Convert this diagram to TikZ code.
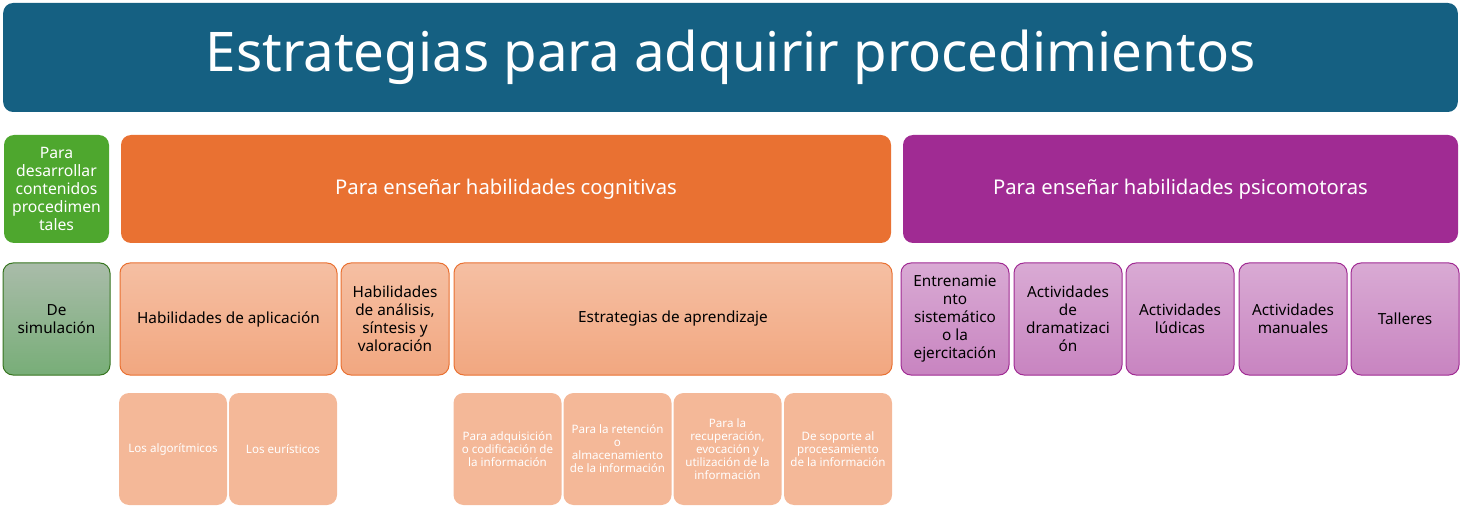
\documentclass[tikz,border=0pt]{standalone}
\usepackage{fontspec}
\setmainfont{Noto Sans}
\usepackage{xcolor}
\usetikzlibrary{positioning}

\definecolor{titleblue}{HTML}{156082}
\definecolor{headgreen}{HTML}{4EA72E}
\definecolor{headorange}{HTML}{E97132}
\definecolor{headpurple}{HTML}{A02B93}

\begin{document}
\begin{tikzpicture}[
  x=0.75pt, y=-0.75pt,
  head/.style={rectangle, rounded corners=7.5pt, text=white, align=center,
              minimum height=81pt, inner sep=2pt, font=\fontsize{15.2}{18}\selectfont},
  sub/.style={rectangle, rounded corners=7.5pt, line width=0.75pt, align=center,
              minimum height=84pt, inner sep=1pt, font=\fontsize{11.5}{13.5}\selectfont},
  subgreen/.style={sub, draw=headgreen!70!black, top color=green!12!gray!60,
              bottom color=green!25!gray!85!white},
  suborange/.style={sub, draw=headorange, top color=headorange!45!white,
              bottom color=headorange!62!white},
  subpurple/.style={sub, draw=headpurple, top color=headpurple!40!white,
              bottom color=headpurple!58!white},
  leaf/.style={rectangle, rounded corners=7.5pt, fill=headorange!50!white, text=white,
              align=center, minimum width=81pt, minimum height=84pt, inner sep=1pt,
              font=\fontsize{8.7}{9.75}\selectfont}
]
\useasboundingbox (0,0) rectangle (1461,506);

% title
\node[head, fill=titleblue, minimum width=1091pt, minimum height=81.75pt,
      font=\fontsize{41}{44}\selectfont] (title) at (730.5,57.5)
  {Estrategias para adquirir procedimientos};

% headers
\node[head, fill=headgreen, minimum width=78.75pt,
      font=\fontsize{11.8}{13.5}\selectfont] (hproc) at (56.5,189)
  {Para\\desarrollar\\contenidos\\procedimen\\tales};
\node[head, fill=headorange, minimum width=577.5pt] (hcog) at (506,189)
  {Para enseñar habilidades cognitivas};
\node[head, fill=headpurple, minimum width=416.25pt] (hpsi) at (1180.5,189)
  {Para enseñar habilidades psicomotoras};

% second row
\node[subgreen, minimum width=80.25pt] (sim) at (56.5,319) {De\\simulación};
\node[suborange, minimum width=162.75pt] (apl) at (228.5,319) {Habilidades de aplicación};
\node[suborange, minimum width=81pt] (ana) at (395,319)
  {Habilidades\\de análisis,\\síntesis y\\valoración};
\node[suborange, minimum width=328.5pt] (est) at (673,319) {Estrategias de aprendizaje};
\node[subpurple, minimum width=81pt] (ent) at (955,319)
  {Entrenamie\\nto\\sistemático\\o la\\ejercitación};
\node[subpurple, minimum width=81pt] (dra) at (1068,319)
  {Actividades\\de\\dramatizaci\\ón};
\node[subpurple, minimum width=81pt] (lud) at (1180,319) {Actividades\\lúdicas};
\node[subpurple, minimum width=81pt] (man) at (1293,319) {Actividades\\manuales};
\node[subpurple, minimum width=81pt] (tal) at (1405,319) {Talleres};

% third row
\node[leaf] (alg) at (173,449) {Los algorítmicos};
\node[leaf] (eur) at (283,449) {Los eurísticos};
\node[leaf] (adq) at (507.5,449) {Para adquisición\\o codificación de\\la información};
\node[leaf] (ret) at (617.5,449) {Para la retención\\o\\almacenamiento\\de la información};
\node[leaf] (rec) at (727.5,449)
  {Para la\\recuperación,\\evocación y\\utilización de la\\información};
\node[leaf] (sop) at (838,449) {De soporte al\\procesamiento\\de la información};
\end{tikzpicture}
\end{document}
